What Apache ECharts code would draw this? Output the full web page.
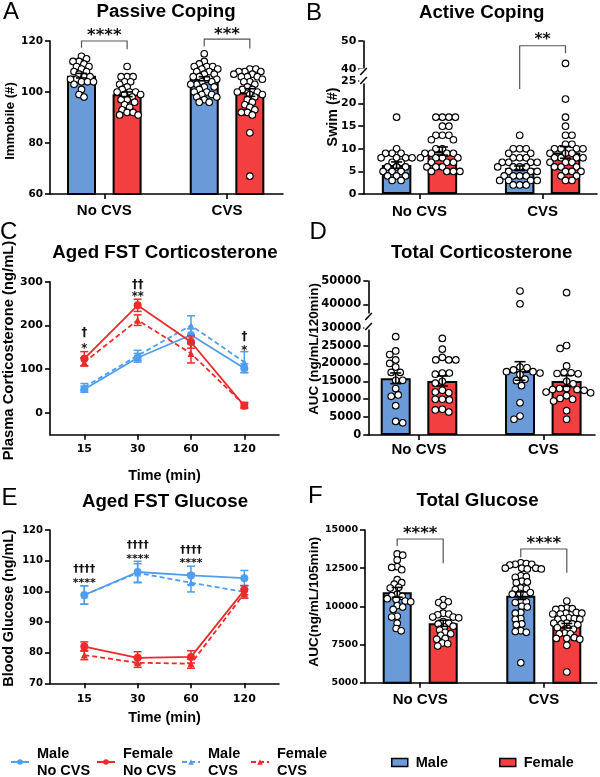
<!DOCTYPE html>
<html><head><meta charset="utf-8">
<script src="https://cdn.jsdelivr.net/npm/echarts@6/dist/echarts.min.js"></script>
<style>html,body{margin:0;padding:0;background:#fff}#c{width:600px;height:777px}</style>
</head><body><div id="c"></div>
<script>
// ---------------- DATA ----------------
const groups = ['No CVS', 'CVS'];
const timeLabels = ['15', '30', '60', '120'];
const sexNames = ['Male', 'Female'];
const lineNames = ['Male\nNo CVS', 'Female\nNo CVS', 'Male\nCVS', 'Female\nCVS'];

// A: Passive coping (Immobile #)
const immMaleMean = [106.4, 105.2];
const immMaleSem = [0.9, 0.8];
const immFemaleMean = [99.1, 99.8];
const immFemaleSem = [0.9, 1.5];
const immMaleNoCVS = [114,113,112,112,111,110,110,109,108,108,107,106,106,105,105,104,104,104,103,101,99,98];
const immFemaleNoCVS = [110,106,106,106,104,104,103,102,101,100,100,100,99,99,98,97,97,96,95,94,93,92,92,91,91];
const immMaleCVS = [115,112,111,110,110,110,109,109,108,108,107,107,106,106,105,105,104,104,103,103,102,102,101,100,100,99,99,98,98,97,96,96];
const immFemaleCVS = [109,109,108,108,108,107,107,106,106,106,105,104,104,103,102,101,101,100,100,99,99,98,97,96,95,94,93,92,92,91,84,67];
// bracket: [group, top, leftBottom, rightBottom, starLevel]
const immBrackets = [[0, 120, 117.4, 116.8, 123.6], [1, 120.7, 117.8, 117.1, 124.0]];
const immBracketText = ['****', '***'];

// B: Active coping (Swim #)
const swimMaleMean = [6.4, 5.7];
const swimMaleSem = [0.7, 0.5];
const swimFemaleMean = [9.5, 9.2];
const swimFemaleSem = [0.9, 1.3];
const swimMaleNoCVS = [17,10,9,9,9,8,8,8,8,7,7,6,6,6,5,5,5,4,4,4,3,3];
const swimFemaleNoCVS = [17,17,17,17,15,15,13,13,13,12,12,10,10,9,9,9,9,8,8,8,8,7,7,7,6,6,6,5,5,5,5];
const swimMaleCVS = [13,10,10,10,9,9,8,8,8,7,7,7,7,6,6,6,6,5,5,5,4,4,4,4,3,3,3,3,2,2,2];
const swimFemaleCVS = [42,21,17,15,13,13,11,11,10,10,10,10,9,9,9,8,8,8,8,7,7,7,6,6,6,5,5,5,4,4,3,3];
const swimBrackets = [[1, 48.3, 32.9, 45.6, 51.9]];
const swimBracketText = ['**'];

// C: Aged FST corticosterone (ng/mL)
const corMaleNoCVS = [54, 126, 178, 102];
const corMaleNoCVSSem = [7, 10, 14, 10];
const corFemaleNoCVS = [124, 246, 162, 16];
const corFemaleNoCVSSem = [16, 14, 14, 6];
const corMaleCVS = [59, 131, 200, 116];
const corMaleCVSSem = [8, 12, 22, 24];
const corFemaleCVS = [116, 212, 136, 18];
const corFemaleCVSSem = [9, 12, 22, 6];
const corAnnotIdx = [0, 1, 3];
const corDaggers = ['†', '††', '†'];
const corDaggerLevel = [182, 292, 173];
const corStars = ['*', '**', '*'];
const corStarLevel = [153, 272, 147];

// D: Total corticosterone AUC
const aucCorMaleMean = [15850, 17900];
const aucCorMaleSem = [1500, 2600];
const aucCorFemaleMean = [15100, 15100];
const aucCorFemaleSem = [1400, 1500];
const aucCorMaleNoCVS = [27500,23500,22500,21000,20000,19000,17500,17500,15300,15300,13000,11200,10800,8200,3800,3400];
const aucCorFemaleNoCVS = [27000,24000,21700,21000,21000,21000,17300,17300,17000,15000,14500,12500,12000,11800,10000,10000,9800,7200,7000,6400];
const aucCorMaleCVS = [45700,40200,19000,18800,18200,17700,17700,17300,16900,15600,15200,13800,9000,5300,4400];
const aucCorFemaleCVS = [45000,25000,24200,19300,17500,17400,17200,17100,15000,14300,13000,13000,12700,12700,12500,12000,11800,11000,10200,10000,9500,6800,4400];

// E: Aged FST glucose
const gluMaleNoCVS = [98.8, 106.3, 105.2, 104.3];
const gluMaleNoCVSSem = [3, 3.5, 3, 2.5];
const gluFemaleNoCVS = [82.0, 78.3, 78.6, 100.4];
const gluFemaleNoCVSSem = [1.5, 2, 2, 1.5];
const gluMaleCVS = [98.8, 106.0, 102.8, 99.8];
const gluMaleCVSSem = [3, 3, 3, 2];
const gluFemaleCVS = [79.2, 76.7, 76.4, 99.3];
const gluFemaleCVSSem = [1.5, 1.5, 1.5, 1.5];
const gluAnnotIdx = [0, 1, 2];
const gluDaggers = ['††††', '††††', '††††'];
const gluDaggerLevel = [107.3, 115.1, 113.5];
const gluStars = ['****', '****', '****'];
const gluStarLevel = [103.7, 111.5, 110.0];

// F: Total glucose AUC
const aucGluMaleMean = [10920, 10700];
const aucGluMaleSem = [320, 250];
const aucGluFemaleMean = [8890, 8730];
const aucGluFemaleSem = [200, 150];
const aucGluMaleNoCVS = [13430,13350,13035,12600,12550,12400,11750,11550,11450,11250,11200,10800,10700,10650,10500,10450,10350,10300,10050,9950,9800,9350,9300,8900,8550,8400];
const aucGluFemaleNoCVS = [10450,10300,10250,10050,9550,9500,9450,9300,9300,9250,9000,8900,8850,8700,8650,8450,8300,8200,8100,7900,7850,7600,7550,7400];
const aucGluMaleCVS = [12850,12800,12750,12750,12700,12500,12500,12500,12450,12450,12000,11950,11900,11650,11600,11550,11200,11150,11100,10900,10850,10800,10350,10300,10250,10000,9950,9600,9550,9200,9150,8850,8800,8400,8350,8300,6300];
const aucGluFemaleCVS = [10350,9900,9850,9850,9800,9600,9550,9550,9500,9500,9250,9200,9200,9150,9150,8900,8900,8850,8850,8800,8600,8550,8500,8250,8200,8200,7950,7900,7900,7850,7450,5700];
const gluBrackets = [[0, 14411, 13952, 12819, 15046], [1, 13756, 13212, 12204, 14391]];
const gluBracketText = ['****', '****'];

// ---------------- STYLE / LAYOUT ----------------
const BLUE = '#6a9bd8', RED = '#f33f3f', LBLUE = '#4f9ef0', LRED = '#ee2a2a';
const TF = 'DejaVu Sans', AF = 'Liberation Sans';
const axLine = {show: true, onZero: false, lineStyle: {color: '#000', width: 1.6}};
const axTick = {show: true, length: 5, lineStyle: {color: '#000', width: 1.6}};

const grids = [];
const xAxes = [];
const yAxes = [];
const series = [];

function addGrid(g) { grids.push(Object.assign({containLabel: false}, g)); return grids.length - 1; }

function yAxis(gi, min, max, fs, extra) {
  const ax = {type: 'value', gridIndex: gi, min: min, max: max, axisLine: axLine, axisTick: Object.assign({}, axTick),
    splitLine: {show: false},
    axisLabel: {fontFamily: TF, fontWeight: 'bold', fontSize: fs, color: '#000', margin: 7, formatter: v => String(v)}};
  if (extra && extra.interval) ax.interval = extra.interval;
  if (extra && extra.custom) { ax.axisTick.customValues = extra.custom; ax.axisLabel.customValues = extra.custom; }
  yAxes.push(ax); return yAxes.length - 1;
}
function xAxisCat(gi, min, max, margin, show) {
  const ax = {type: 'value', gridIndex: gi, min: min, max: max, show: show !== false, axisLine: axLine,
    axisTick: Object.assign({customValues: [0, 1]}, axTick), splitLine: {show: false},
    axisLabel: {customValues: [0, 1], formatter: v => groups[Math.round(v)] || '', fontFamily: AF, fontWeight: 'bold', fontSize: 15, color: '#000', margin: margin}};
  xAxes.push(ax); return xAxes.length - 1;
}
function xAxisTime(gi, min, max, margin, nameGap) {
  const ax = {type: 'value', gridIndex: gi, min: min, max: max, axisLine: axLine,
    axisTick: Object.assign({customValues: [1, 2, 3, 4]}, axTick), splitLine: {show: false},
    axisLabel: {customValues: [1, 2, 3, 4], formatter: v => timeLabels[Math.round(v) - 1] || '', fontFamily: TF, fontWeight: 'bold', fontSize: 11, color: '#000', margin: margin},
    name: 'Time (min)', nameLocation: 'middle', nameGap: nameGap,
    nameTextStyle: {fontFamily: AF, fontWeight: 'bold', fontSize: 14.4, color: '#000'}};
  xAxes.push(ax); return xAxes.length - 1;
}

function swarm(vals, toPy, diam) {
  const order = vals.map((v, i) => ({v: v, i: i, y: toPy(v)})).sort((a, b) => b.v - a.v);
  const placed = []; const out = new Array(vals.length);
  order.forEach((p, n) => {
    let best = null;
    for (let k = 0; k < 400 && best === null; k++) {
      const c = k === 0 ? [0] : (n % 2 ? [k * 0.5, -k * 0.5] : [-k * 0.5, k * 0.5]);
      for (const x of c) {
        if (placed.every(q => (q.x - x) * (q.x - x) + (q.y - p.y) * (q.y - p.y) >= diam * diam)) { best = x; break; }
      }
    }
    placed.push({x: best, y: p.y}); out[p.i] = best;
  });
  return out;
}

function errRender(cap, color, lw) {
  return function (params, api) {
    const x = api.value(0), m = api.value(1), s = api.value(2);
    const t = api.coord([x, m + s]), b = api.coord([x, m - s]); const h = cap / 2;
    const st = {stroke: color, lineWidth: lw};
    return {type: 'group', children: [
      {type: 'line', shape: {x1: t[0], y1: t[1], x2: b[0], y2: b[1]}, style: st},
      {type: 'line', shape: {x1: t[0] - h, y1: t[1], x2: t[0] + h, y2: t[1]}, style: st},
      {type: 'line', shape: {x1: b[0] - h, y1: b[1], x2: b[0] + h, y2: b[1]}, style: st}]};
  };
}
function bracketRender(texts, fs) {
  return function (params, api) {
    const xl = api.value(0), xr = api.value(1), top = api.value(2), lb = api.value(3), rb = api.value(4), sl = api.value(5);
    const a = api.coord([xl, lb]), b = api.coord([xl, top]), c = api.coord([xr, top]), d = api.coord([xr, rb]);
    const s = api.coord([(xl + xr) / 2, sl]);
    return {type: 'group', children: [
      {type: 'polyline', shape: {points: [a, b, c, d]}, style: {stroke: '#555', lineWidth: 1.2, fill: null}},
      {type: 'text', x: s[0], y: s[1] + 0.245 * fs, style: {text: texts[params.dataIndex], align: 'center', verticalAlign: 'middle',
        fontFamily: TF, fontWeight: 'bold', fontSize: fs, fill: '#111'}}]};
  };
}
function annotRender(texts, fs, shift) {
  return function (params, api) {
    const p = api.coord([api.value(0), api.value(1)]);
    return {type: 'text', x: p[0], y: p[1] + shift * fs, style: {text: texts[params.dataIndex], align: 'center', verticalAlign: 'middle',
      fontFamily: TF, fontWeight: 'bold', fontSize: fs, fill: '#111'}};
  };
}

// Bar + dot panel builder
function barPanel(o) {
  const L = o.low;
  const gLow = addGrid({left: L.left, top: L.top, width: L.width, height: L.height});
  const xLow = xAxisCat(gLow, o.xr[0], o.xr[1], o.labelMargin, true);
  const yLow = yAxis(gLow, o.yLow[0], o.yLow[1], o.tickFs, o.yLowExtra);
  let gUp = null, xUp = null, yUp = null;
  if (o.up) {
    gUp = addGrid({left: L.left, top: o.up.top, width: L.width, height: o.up.height});
    xUp = xAxisCat(gUp, o.xr[0], o.xr[1], 0, false);
    yUp = yAxis(gUp, o.yUp[0], o.yUp[1], o.tickFs, o.yUpExtra);
  }
  const pxu = L.width / (o.xr[1] - o.xr[0]);
  const offU = o.off / pxu;
  const toPy = v => (o.up && v > o.yLow[1])
    ? o.up.top + (o.yUp[1] - v) / (o.yUp[1] - o.yUp[0]) * o.up.height
    : L.top + (o.yLow[1] - v) / (o.yLow[1] - o.yLow[0]) * L.height;
  const means = [o.maleMean, o.femaleMean], sems = [o.maleSem, o.femaleSem];
  [0, 1].forEach(s => {
    series.push({type: 'bar', name: sexNames[s], xAxisIndex: xLow, yAxisIndex: yLow, barWidth: o.barW, barGap: '-100%', z: 2,
      itemStyle: {color: s ? RED : BLUE, borderColor: '#000', borderWidth: 2},
      data: means[s].map((m, g) => [g + (s ? offU : -offU), m])});
  });
  const lowPts = [], upPts = [];
  o.points.forEach((vals, k) => {
    const g = k >> 1, s = k & 1;
    const cx = g + (s ? offU : -offU);
    const jit = swarm(vals, toPy, o.swarmD || 6);
    vals.forEach((v, i) => {
      const pt = [cx + jit[i] / pxu, v];
      (o.up && v > o.yLow[1] ? upPts : lowPts).push(pt);
    });
  });
  const sc = {type: 'scatter', symbol: 'circle', symbolSize: 6.6, z: 3, silent: true,
    itemStyle: {color: '#fff', borderColor: '#000', borderWidth: 1.1, opacity: 1}};
  series.push(Object.assign({}, sc, {xAxisIndex: xLow, yAxisIndex: yLow, data: lowPts}));
  if (o.up) series.push(Object.assign({}, sc, {xAxisIndex: xUp, yAxisIndex: yUp, data: upPts}));
  const err = [];
  [0, 1].forEach(s => means[s].forEach((m, g) => err.push([g + (s ? offU : -offU), m, sems[s][g]])));
  series.push({type: 'custom', xAxisIndex: xLow, yAxisIndex: yLow, z: 4, silent: true,
    renderItem: errRender(11, '#000', 1.6), encode: {x: 0, y: 1}, data: err});
  if (o.brackets) {
    const onUp = o.bracketUp;
    series.push({type: 'custom', xAxisIndex: onUp ? xUp : xLow, yAxisIndex: onUp ? yUp : yLow, z: 5, silent: true, clip: false,
      renderItem: bracketRender(o.bracketText, o.starFs), encode: {x: [0, 1], y: [2, 3, 4, 5]},
      data: o.brackets.map(b => [b[0] - offU, b[0] + offU, b[1], b[2], b[3], b[4]])});
  }
}

function linePanel(o) {
  const gi = addGrid({left: o.left, top: o.top, width: o.width, height: o.height});
  const xi = xAxisTime(gi, o.xr[0], o.xr[1], o.labelMargin, o.nameGap);
  const yi = yAxis(gi, o.yr[0], o.yr[1], o.tickFs, o.yExtra);
  const cols = [LBLUE, LRED, LBLUE, LRED];
  o.lines.forEach((vals, k) => {
    const dashed = k >= 2;
    series.push({type: 'line', name: lineNames[k], xAxisIndex: xi, yAxisIndex: yi, z: 3 + (k % 2),
      symbol: dashed ? 'triangle' : 'circle', symbolSize: dashed ? 7 : 8,
      lineStyle: {color: cols[k], width: 1.8, type: dashed ? [5, 3] : 'solid'},
      itemStyle: {color: cols[k]},
      data: vals.map((v, i) => [i + 1, v])});
    series.push({type: 'custom', xAxisIndex: xi, yAxisIndex: yi, z: 3 + (k % 2), silent: true,
      renderItem: errRender(8, cols[k], 1.5), encode: {x: 0, y: 1},
      data: vals.map((v, i) => [i + 1, v, o.sems[k][i]])});
  });
  series.push({type: 'custom', xAxisIndex: xi, yAxisIndex: yi, z: 6, silent: true, clip: false,
    renderItem: annotRender(o.daggers, o.annFs, 0.02), encode: {x: 0, y: 1},
    data: o.annIdx.map((ix, j) => [ix + 1, o.daggerLevel[j]])});
  series.push({type: 'custom', xAxisIndex: xi, yAxisIndex: yi, z: 6, silent: true, clip: false,
    renderItem: annotRender(o.stars, o.annFs, 0.245), encode: {x: 0, y: 1},
    data: o.annIdx.map((ix, j) => [ix + 1, o.starLevel[j]])});
}

// A
barPanel({low: {left: 50, top: 41, width: 233, height: 153}, xr: [-0.4425, 1.456], yLow: [60, 120], yLowExtra: {interval: 20},
  tickFs: 10.5, labelMargin: 9, off: 22.8, barW: 29, swarmD: 5.6,
  maleMean: immMaleMean, maleSem: immMaleSem, femaleMean: immFemaleMean, femaleSem: immFemaleSem,
  points: [immMaleNoCVS, immFemaleNoCVS, immMaleCVS, immFemaleCVS],
  brackets: immBrackets, bracketText: immBracketText, starFs: 16.5});
// B
barPanel({low: {left: 363.3, top: 81, width: 233.7, height: 113}, up: {top: 41, height: 30.8},
  xr: [-0.4565, 1.442], yLow: [0, 25], yLowExtra: {interval: 5}, yUp: [39, 50], yUpExtra: {custom: [40, 50]},
  tickFs: 11, labelMargin: 10, off: 22.9, barW: 29.5, swarmD: 6.2,
  maleMean: swimMaleMean, maleSem: swimMaleSem, femaleMean: swimFemaleMean, femaleSem: swimFemaleSem,
  points: [swimMaleNoCVS, swimFemaleNoCVS, swimMaleCVS, swimFemaleCVS],
  brackets: swimBrackets, bracketText: swimBracketText, bracketUp: true, starFs: 15.5});
// C
linePanel({left: 50, top: 281.7, width: 229, height: 153, xr: [0.357, 4.65], yr: [-50, 300], yExtra: {custom: [0, 100, 200, 300]},
  tickFs: 11, labelMargin: 9, nameGap: 34,
  lines: [corMaleNoCVS, corFemaleNoCVS, corMaleCVS, corFemaleCVS],
  sems: [corMaleNoCVSSem, corFemaleNoCVSSem, corMaleCVSSem, corFemaleCVSSem],
  annIdx: corAnnotIdx, daggers: corDaggers, daggerLevel: corDaggerLevel, stars: corStars, starLevel: corStarLevel, annFs: 11.5});
// D
barPanel({low: {left: 368.3, top: 327.7, width: 226.7, height: 107.3}, up: {top: 281, height: 35},
  xr: [-0.408, 1.416], yLow: [0, 30000], yLowExtra: {interval: 5000}, yUp: [35000, 50000], yUpExtra: {custom: [40000, 50000]},
  tickFs: 11.5, labelMargin: 7, off: 23.3, barW: 30, swarmD: 6.8,
  maleMean: aucCorMaleMean, maleSem: aucCorMaleSem, femaleMean: aucCorFemaleMean, femaleSem: aucCorFemaleSem,
  points: [aucCorMaleNoCVS, aucCorFemaleNoCVS, aucCorMaleCVS, aucCorFemaleCVS]});
// E
linePanel({left: 50, top: 530, width: 229, height: 153.3, xr: [0.357, 4.65], yr: [70, 120], yExtra: {interval: 10},
  tickFs: 10, labelMargin: 10, nameGap: 28,
  lines: [gluMaleNoCVS, gluFemaleNoCVS, gluMaleCVS, gluFemaleCVS],
  sems: [gluMaleNoCVSSem, gluFemaleNoCVSSem, gluMaleCVSSem, gluFemaleCVSSem],
  annIdx: gluAnnotIdx, daggers: gluDaggers, daggerLevel: gluDaggerLevel, stars: gluStars, starLevel: gluStarLevel, annFs: 11});
// F
barPanel({low: {left: 365, top: 530, width: 231.7, height: 152.7}, xr: [-0.4466, 1.428], yLow: [5000, 15000], yLowExtra: {interval: 2500},
  tickFs: 9.5, labelMargin: 10, off: 23, barW: 29, swarmD: 5.4,
  maleMean: aucGluMaleMean, maleSem: aucGluMaleSem, femaleMean: aucGluFemaleMean, femaleSem: aucGluFemaleSem,
  points: [aucGluMaleNoCVS, aucGluFemaleNoCVS, aucGluMaleCVS, aucGluFemaleCVS],
  brackets: gluBrackets, bracketText: gluBracketText, starFs: 16.5});

// ---------------- TEXT / DECORATION ----------------
const titles = [['Passive Coping', 166, 12.3], ['Active Coping', 481.7, 12.7], ['Aged FST Corticosterone', 165, 253.3],
  ['Total Corticosterone', 481.7, 253.3], ['Aged FST Glucose', 165, 501.7], ['Total Glucose', 477.5, 501.2]];
const letters = [['A', 3, 12.5], ['B', 306, 13], ['C', 0, 232.5], ['D', 309.5, 232.5], ['E', 1.5, 498], ['F', 308, 496]];
const yNames = [['Immobile (#)', 10.8, 121, 13.2], ['Swim (#)', 333, 117, 14.3], ['Plasma Corticosterone (ng/mL)', 9.2, 350.5, 14.8],
  ['AUC (ng/mL/120min)', 314.8, 349, 13.4], ['Blood Glucose (ng/mL)', 9.2, 608, 14.3], ['AUC(ng/mL/105min)', 314.3, 601.7, 13.6]];
const breaks = [[363.3, 71.5], [363.3, 80.5], [368.3, 316.5], [368.3, 326.5]];

const graphic = [];
titles.forEach(t => graphic.push({type: 'text', x: t[1], y: t[2], style: {text: t[0], align: 'center', verticalAlign: 'middle',
  textAlign: 'center', textVerticalAlign: 'middle', fontFamily: AF, fontWeight: 'bold', fontSize: 18.7, fill: '#000'}}));
letters.forEach(t => graphic.push({type: 'text', x: t[1], y: t[2], style: {text: t[0], align: 'left', verticalAlign: 'middle',
  textAlign: 'left', textVerticalAlign: 'middle', fontFamily: AF, fontWeight: 'normal', fontSize: 24, fill: '#000'}}));
yNames.forEach(t => graphic.push({type: 'text', x: t[1], y: t[2], rotation: Math.PI / 2, style: {text: t[0], align: 'center', verticalAlign: 'middle',
  textAlign: 'center', textVerticalAlign: 'middle', fontFamily: AF, fontWeight: 'bold', fontSize: t[3], fill: '#000'}}));
breaks.forEach(b => {
  graphic.push({type: 'rect', shape: {x: b[0] - 4, y: b[1] - 3, width: 8, height: 6}, style: {fill: '#fff'}, z: 100});
  graphic.push({type: 'line', shape: {x1: b[0] - 3, y1: b[1] + 3.5, x2: b[0] + 3.5, y2: b[1] - 3.5}, style: {stroke: '#000', lineWidth: 1.5}, z: 101});
});

const lineLegend = {itemWidth: 18, itemHeight: 7, padding: 0, selectedMode: false, top: 745,
  textStyle: {fontFamily: AF, fontWeight: 'bold', fontSize: 14.5, lineHeight: 17, color: '#000', padding: [0, 0, 0, 3]}};
const barLegend = {itemWidth: 16, itemHeight: 8, padding: 0, selectedMode: false, top: 754, icon: 'rect',
  itemStyle: {borderColor: '#000', borderWidth: 1.5},
  textStyle: {fontFamily: AF, fontWeight: 'bold', fontSize: 14.5, lineHeight: 17, color: '#000', padding: [0, 0, 0, 3]}};
const legend = [
  Object.assign({}, lineLegend, {data: [lineNames[0]], left: 10}),
  Object.assign({}, lineLegend, {data: [lineNames[1]], left: 96}),
  Object.assign({}, lineLegend, {data: [lineNames[2]], left: 181}),
  Object.assign({}, lineLegend, {data: [lineNames[3]], left: 250}),
  Object.assign({}, barLegend, {data: [sexNames[0]], left: 391}),
  Object.assign({}, barLegend, {data: [sexNames[1]], left: 499})
];

const chart = echarts.init(document.getElementById('c'), null, {renderer: 'canvas'});
chart.setOption({animation: false, backgroundColor: '#fff', grid: grids, xAxis: xAxes, yAxis: yAxes,
  series: series, legend: legend, graphic: graphic});
</script></body></html>
